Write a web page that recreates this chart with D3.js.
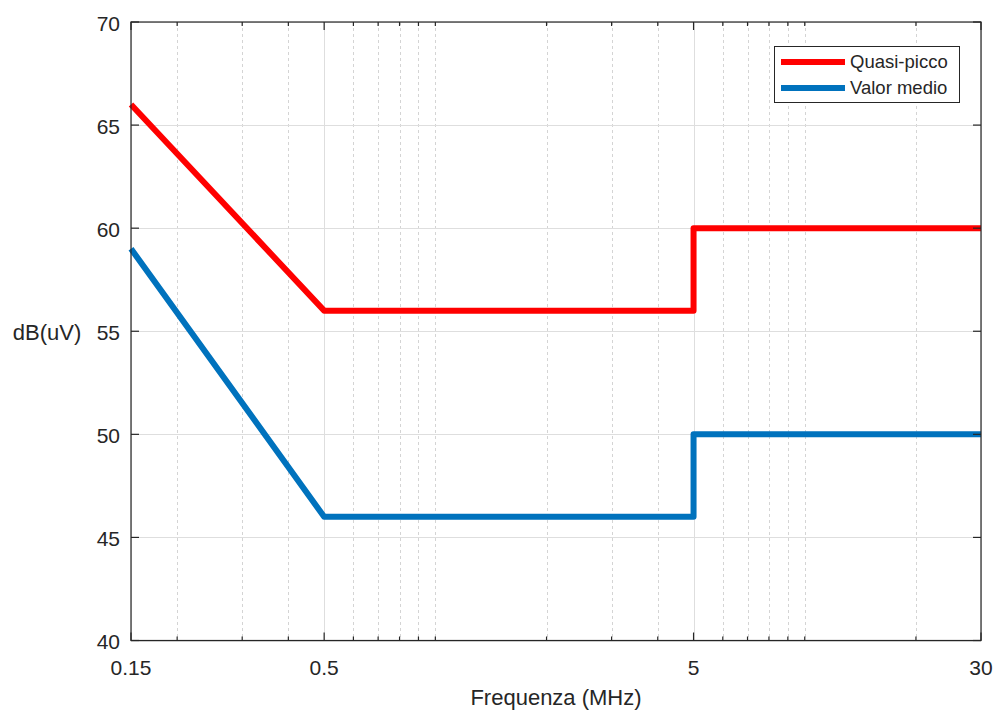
<!DOCTYPE html>
<html>
<head>
<meta charset="utf-8">
<script src="https://cdn.jsdelivr.net/npm/d3@7"></script>
<style>
  body { margin: 0; background: #fff; }
  svg { display: block; font-family: "Liberation Sans", Arial, sans-serif; }
</style>
</head>
<body>
<div id="chart"></div>
<script>
const freqQuasi = [0.15, 0.5, 5, 5, 30];
const dbQuasi = [66, 56, 56, 60, 60];
const freqMedio = [0.15, 0.5, 5, 5, 30];
const dbMedio = [59, 46, 46, 50, 50];
const xMajorTicks = [0.15, 0.5, 5, 30];
const xMinorTicks = [0.2, 0.3, 0.4, 0.6, 0.7, 0.8, 0.9, 1, 2, 3, 4, 6, 7, 8, 9, 10, 20];
const yTicks = [40, 45, 50, 55, 60, 65, 70];
const seriesNames = ["Quasi-picco", "Valor medio"];

const width = 997, height = 711;
const margin = { left: 131, right: 16, top: 22, bottom: 70 };
const textColor = "#262626";
const axisColor = "#262626";
const red = "#ff0000";
const blue = "#0072bd";

const svg = d3.select("#chart").append("svg")
  .attr("width", width).attr("height", height);

const x = d3.scaleLog().domain([0.15, 30]).range([margin.left, width - margin.right]);
const y = d3.scaleLinear().domain([40, 70]).range([height - margin.bottom - 0.5, margin.top]);

const x0 = x.range()[0], x1 = x.range()[1];
const y0 = y.range()[0], y1 = y.range()[1];

// grid
const grid = svg.append("g");
grid.selectAll(".xminor").data(xMinorTicks).join("line")
  .attr("x1", d => Math.round(x(d)) + 0.5).attr("x2", d => Math.round(x(d)) + 0.5)
  .attr("y1", y1).attr("y2", y0)
  .attr("stroke", "#d4d4d4").attr("stroke-width", 1).attr("stroke-dasharray", "3,3");
grid.selectAll(".xmajor").data(xMajorTicks).join("line")
  .attr("x1", d => Math.round(x(d)) + 0.5).attr("x2", d => Math.round(x(d)) + 0.5)
  .attr("y1", y1).attr("y2", y0)
  .attr("stroke", "#dedede").attr("stroke-width", 1);
grid.selectAll(".ygrid").data(yTicks).join("line")
  .attr("x1", x0).attr("x2", x1)
  .attr("y1", d => Math.round(y(d)) + 0.5).attr("y2", d => Math.round(y(d)) + 0.5)
  .attr("stroke", "#dedede").attr("stroke-width", 1);

// lines
const line = d3.line().x(d => x(d[0])).y(d => y(d[1])).curve(d3.curveLinear);
const series = [
  { name: seriesNames[0], color: red, pts: d3.zip(freqQuasi, dbQuasi) },
  { name: seriesNames[1], color: blue, pts: d3.zip(freqMedio, dbMedio) }
];
svg.append("g").selectAll("path").data(series).join("path")
  .attr("d", d => line(d.pts))
  .attr("fill", "none")
  .attr("stroke", d => d.color)
  .attr("stroke-width", 6)
  .attr("stroke-linejoin", "round");

// box
svg.append("rect")
  .attr("x", x0).attr("y", y1)
  .attr("width", x1 - x0).attr("height", y0 - y1)
  .attr("fill", "none").attr("stroke", axisColor).attr("stroke-width", 1.2);

// ticks (inward, on all sides)
const ticks = svg.append("g").attr("stroke", axisColor).attr("stroke-width", 1.2);
xMajorTicks.forEach(d => {
  const px = x(d);
  ticks.append("line").attr("x1", px).attr("x2", px).attr("y1", y0).attr("y2", y0 - 8);
  ticks.append("line").attr("x1", px).attr("x2", px).attr("y1", y1).attr("y2", y1 + 8);
});
xMinorTicks.forEach(d => {
  const px = x(d);
  ticks.append("line").attr("x1", px).attr("x2", px).attr("y1", y0).attr("y2", y0 - 4);
  ticks.append("line").attr("x1", px).attr("x2", px).attr("y1", y1).attr("y2", y1 + 4);
});
yTicks.forEach(d => {
  const py = y(d);
  ticks.append("line").attr("x1", x0).attr("x2", x0 + 8).attr("y1", py).attr("y2", py);
  ticks.append("line").attr("x1", x1).attr("x2", x1 - 8).attr("y1", py).attr("y2", py);
});

// tick labels
svg.append("g").selectAll("text").data(xMajorTicks).join("text")
  .attr("x", d => x(d)).attr("y", y0 + 34)
  .attr("text-anchor", "middle")
  .attr("font-size", 21).attr("fill", textColor)
  .text(d => d);
svg.append("g").selectAll("text").data(yTicks).join("text")
  .attr("x", x0 - 11).attr("y", d => y(d) + 1.5)
  .attr("dy", "0.35em")
  .attr("text-anchor", "end")
  .attr("font-size", 21).attr("fill", textColor)
  .text(d => d);

// axis labels
svg.append("text")
  .attr("x", (x0 + x1) / 2).attr("y", 705)
  .attr("text-anchor", "middle")
  .attr("font-size", 22).attr("fill", textColor)
  .text("Frequenza (MHz)");
svg.append("text")
  .attr("x", 47).attr("y", 332)
  .attr("dy", "0.35em")
  .attr("text-anchor", "middle")
  .attr("font-size", 22).attr("fill", textColor)
  .text("dB(uV)");

// legend
const lg = svg.append("g");
lg.append("rect")
  .attr("x", 774.5).attr("y", 46.5).attr("width", 185).attr("height", 56)
  .attr("fill", "#fff").attr("stroke", axisColor).attr("stroke-width", 1);
series.forEach((s, i) => {
  const ly = 62 + i * 26;
  lg.append("line").attr("x1", 781).attr("x2", 845).attr("y1", ly).attr("y2", ly)
    .attr("stroke", s.color).attr("stroke-width", 6);
  lg.append("text").attr("x", 850).attr("y", ly).attr("dy", "0.35em")
    .attr("font-size", 18.5).attr("fill", textColor).text(s.name);
});
</script>
</body>
</html>
